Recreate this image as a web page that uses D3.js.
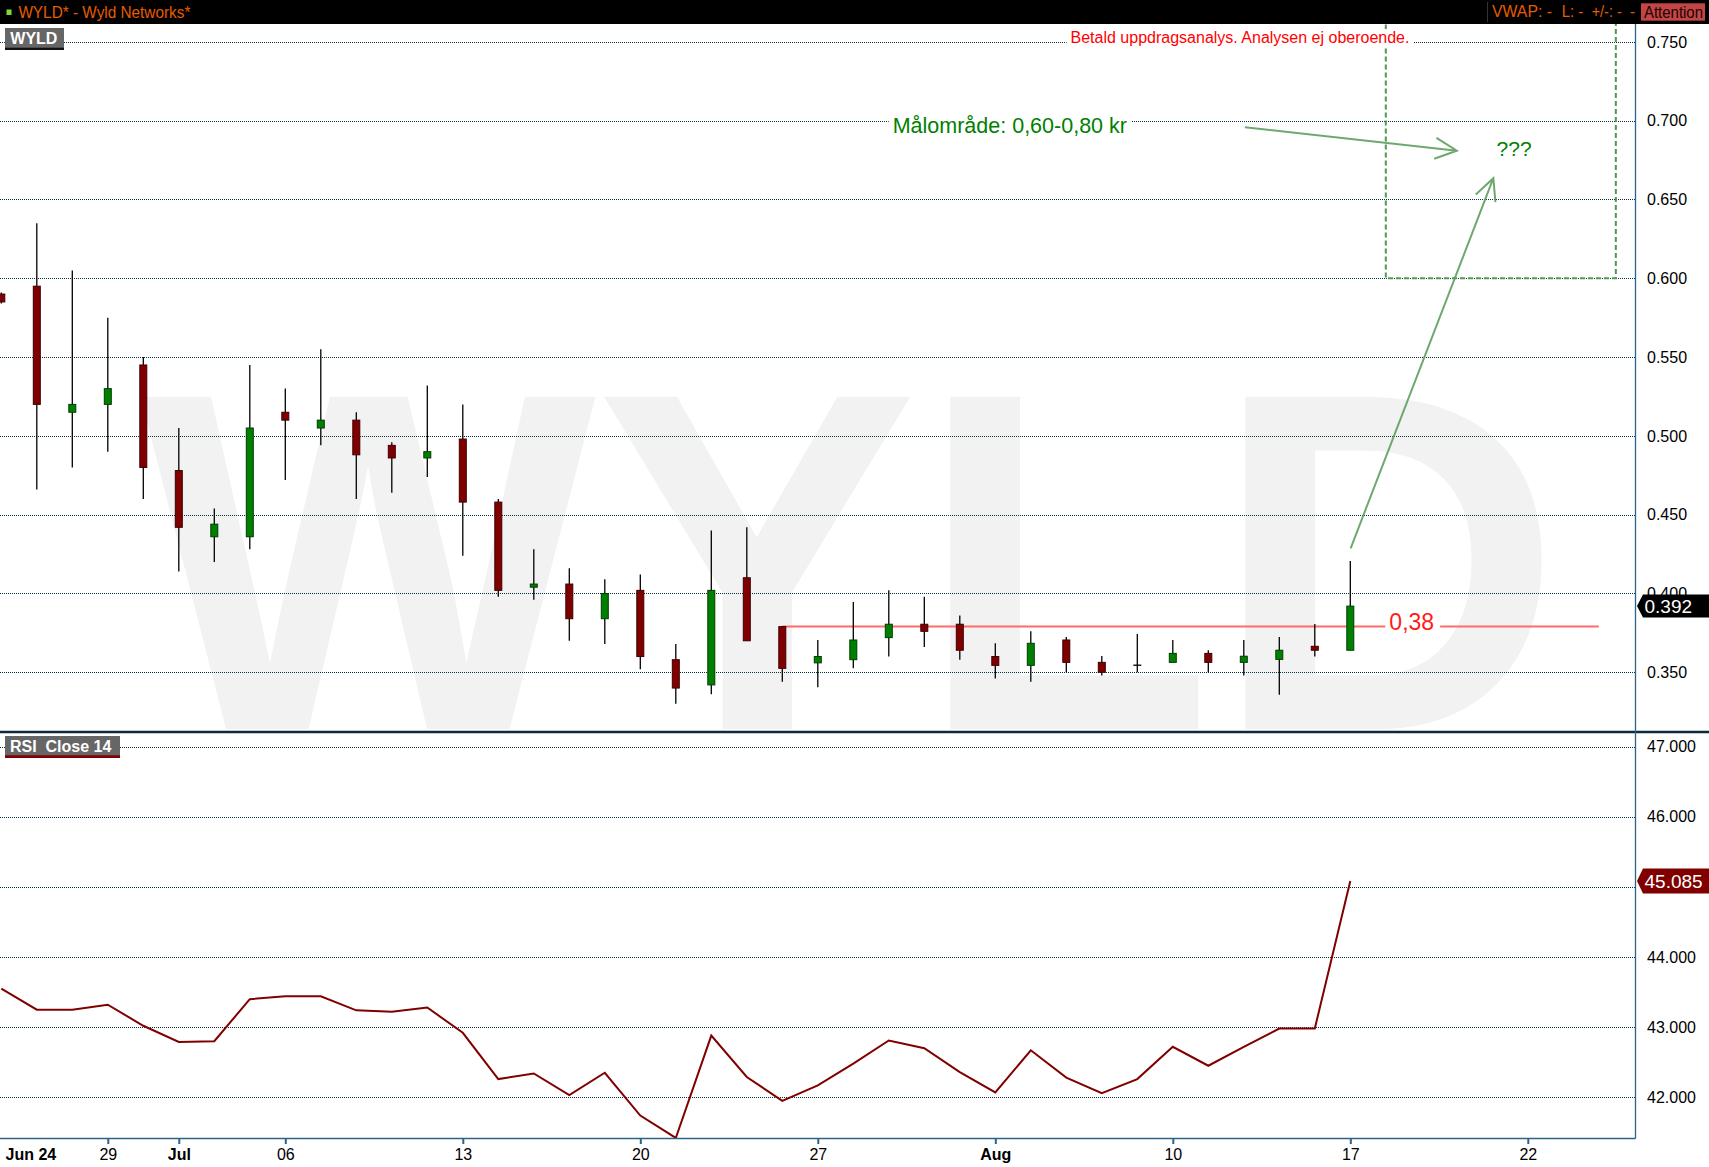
<!DOCTYPE html>
<html><head><meta charset="utf-8">
<script src="https://cdn.jsdelivr.net/npm/d3@7"></script>
<style>
html,body{margin:0;padding:0;background:#fff;overflow:hidden;}
svg{display:block;font-family:"Liberation Sans",Arial,Helvetica,sans-serif;}
</style></head><body>
<svg id="chart" width="1709" height="1167"></svg>
<script>
// ---------------- DATA ----------------
const dates = ["2020-06-24","2020-06-25","2020-06-26","2020-06-29","2020-06-30",
  "2020-07-01","2020-07-02","2020-07-03","2020-07-06","2020-07-07","2020-07-08","2020-07-09","2020-07-10",
  "2020-07-13","2020-07-14","2020-07-15","2020-07-16","2020-07-17",
  "2020-07-20","2020-07-21","2020-07-22","2020-07-23","2020-07-24",
  "2020-07-27","2020-07-28","2020-07-29","2020-07-30","2020-07-31",
  "2020-08-03","2020-08-04","2020-08-05","2020-08-06","2020-08-07",
  "2020-08-10","2020-08-11","2020-08-12","2020-08-13","2020-08-14","2020-08-17"];
const openV  = [0.590,0.595,0.515,0.520,0.545,0.478,0.436,0.436,0.515,0.505,0.510,0.494,0.486,
  0.498,0.458,0.404,0.406,0.384,0.402,0.358,0.342,0.410,0.379,0.356,0.358,0.372,0.3805,0.3805,
  0.360,0.3544,0.3705,0.3563,0.3545,0.3563,0.362,0.3563,0.3582,0.3665,0.364];
const highV  = [0.591,0.635,0.605,0.575,0.550,0.505,0.454,0.545,0.530,0.555,0.515,0.496,0.532,
  0.520,0.460,0.428,0.416,0.409,0.412,0.368,0.440,0.442,0.379,0.3705,0.3946,0.402,0.398,0.386,
  0.3684,0.376,0.3724,0.3603,0.3743,0.3705,0.364,0.3705,0.3724,0.3807,0.4206];
const lowV   = [0.584,0.466,0.480,0.490,0.460,0.414,0.420,0.428,0.472,0.494,0.460,0.464,0.474,
  0.424,0.398,0.396,0.370,0.368,0.352,0.330,0.336,0.370,0.344,0.3405,0.3525,0.360,0.366,0.358,
  0.346,0.344,0.350,0.348,0.350,0.3563,0.350,0.348,0.3358,0.360,0.364];
const closeV = [0.585,0.520,0.520,0.530,0.480,0.442,0.444,0.505,0.510,0.510,0.488,0.486,0.490,
  0.458,0.402,0.406,0.384,0.400,0.360,0.340,0.402,0.370,0.3525,0.360,0.3705,0.3805,0.376,0.364,
  0.3544,0.3684,0.3563,0.350,0.3545,0.362,0.3563,0.3602,0.364,0.364,0.392];
const rsiV   = [43.55,43.25,43.25,43.32,43.02,42.79,42.80,43.40,43.44,43.44,43.24,43.22,43.28,
  42.92,42.26,42.34,42.03,42.35,41.74,41.42,42.88,42.29,41.95,42.17,42.48,42.81,42.70,42.36,
  42.07,42.67,42.28,42.06,42.26,42.72,42.45,42.72,42.98,42.98,45.085];

const tickIndex  = [0,3,5,8,13,18,23,28,33,38,43];
const tickLabels = ["Jun 24","29","Jul","06","13","20","27","Aug","10","17","22"];
const tickBold   = [true,false,true,false,false,false,false,true,false,false,false];
const priceTicks = [0.35,0.40,0.45,0.50,0.55,0.60,0.65,0.70,0.75];
const rsiTicks   = [42,43,44,45,46,47];

const supportLevel = 0.379, supportFrom = 22, supportTo = 45, supportLabelAt = 39.1;
const targetLow = 0.60, targetHigh = 0.80, targetFrom = 39, targetTo = 45.48;
const arrows = [ {x1:35.03,y1:0.6958,x2:41.0,y2:0.681}, {x1:38.01,y1:0.4287,x2:42.03,y2:0.6635} ];

// ---------------- LAYOUT ----------------
const W = 1709, H = 1167, plotR = 1635, headerH = 24, sepY = 732, axisY = 1138;
const svg = d3.select("#chart");
const x  = d3.scaleLinear().domain([0,46]).range([1.3, 1634.3]);
const yP = d3.scaleLinear().domain([0.35,0.75]).range([672.3, 41.9]);
const yR = d3.scaleLinear().domain([42,47]).range([1097.3, 746.7]);
const gridCol = "#0d3040", axisCol = "#2b6488";

const defs = svg.append("defs");
defs.append("clipPath").attr("id","cpP").append("rect").attr("x",0).attr("y",headerH).attr("width",plotR).attr("height",sepY-1-headerH);
defs.append("clipPath").attr("id","cpR").append("rect").attr("x",0).attr("y",sepY+1).attr("width",plotR).attr("height",axisY-sepY-1);

// watermark
const gP = svg.append("g").attr("clip-path","url(#cpP)");
gP.append("text").attr("x",140).attr("y",729).attr("font-size",483).attr("font-weight","bold")
  .attr("fill","#f2f2f2").text("WYLD");

// price grid
gP.selectAll("line.grid").data(priceTicks).join("line").attr("class","grid")
  .attr("x1",0).attr("x2",plotR)
  .attr("y1",d=>Math.round(yP(d))+0.5).attr("y2",d=>Math.round(yP(d))+0.5)
  .attr("stroke",gridCol).attr("stroke-width",1).attr("stroke-dasharray","1,1");

// target box
gP.append("rect").attr("x",x(targetFrom)).attr("y",yP(targetHigh))
  .attr("width",x(targetTo)-x(targetFrom)).attr("height",yP(targetLow)-yP(targetHigh))
  .attr("fill","none").attr("stroke","#4f9a4f").attr("stroke-width",2).attr("stroke-dasharray","5,3");

// support line + label
const sY = yP(supportLevel);
const sLab = gP.append("text").attr("x",x(supportLabelAt)).attr("y",sY+3).attr("font-size",23)
  .attr("fill","#ff1a1a").text("0,38");
const sbb = sLab.node().getBBox();
gP.append("line").attr("x1",x(supportFrom)).attr("x2",sbb.x-4).attr("y1",sY).attr("y2",sY)
  .attr("stroke","#ff6b6b").attr("stroke-width",2);
gP.append("line").attr("x1",sbb.x+sbb.width+6).attr("x2",x(supportTo)).attr("y1",sY).attr("y2",sY)
  .attr("stroke","#ff6b6b").attr("stroke-width",2);

// candles
const data = dates.map((d,i)=>({i,o:openV[i],h:highV[i],l:lowV[i],c:closeV[i]}));
gP.selectAll("line.wick").data(data).join("line").attr("class","wick")
  .attr("x1",d=>x(d.i)).attr("x2",d=>x(d.i)).attr("y1",d=>yP(d.h)).attr("y2",d=>yP(d.l))
  .attr("stroke","#000").attr("stroke-width",1.3);
gP.selectAll("rect.body").data(data.filter(d=>d.o!==d.c)).join("rect").attr("class","body")
  .attr("x",d=>x(d.i)-3.5).attr("width",7)
  .attr("y",d=>yP(Math.max(d.o,d.c))).attr("height",d=>Math.max(1,yP(Math.min(d.o,d.c))-yP(Math.max(d.o,d.c))))
  .attr("fill",d=>d.c>d.o?"#008000":"#800000").attr("stroke",d=>d.c>d.o?"#003c00":"#3c0000").attr("stroke-width",1);
gP.selectAll("line.doji").data(data.filter(d=>d.o===d.c)).join("line").attr("class","doji")
  .attr("x1",d=>x(d.i)-4).attr("x2",d=>x(d.i)+4).attr("y1",d=>yP(d.o)).attr("y2",d=>yP(d.o))
  .attr("stroke","#000").attr("stroke-width",1.3);

// arrows
const arrowCol = "#5f9f5f";
arrows.forEach(a=>{
  const X1=x(a.x1),Y1=yP(a.y1),X2=x(a.x2),Y2=yP(a.y2);
  const ang = Math.atan2(Y1-Y2, X1-X2), L = 24, da = 26*Math.PI/180;
  const p = d3.path();
  p.moveTo(X1,Y1); p.lineTo(X2,Y2);
  p.moveTo(X2+L*Math.cos(ang+da), Y2+L*Math.sin(ang+da)); p.lineTo(X2,Y2);
  p.lineTo(X2+L*Math.cos(ang-da), Y2+L*Math.sin(ang-da));
  gP.append("path").attr("d",p.toString()).attr("fill","none").attr("stroke",arrowCol)
    .attr("stroke-width",2).attr("stroke-opacity",0.9);
});
gP.append("text").attr("x",x(42.12)).attr("y",yP(0.6776)).attr("font-size",21).attr("fill","#008000").text("???");

// annotation texts with white background
function bgText(tx,ty,size,color,str){
  const grp = gP.append("g");
  const r = grp.append("rect").attr("fill","#fff");
  const t = grp.append("text").attr("x",tx).attr("y",ty).attr("font-size",size).attr("fill",color).text(str);
  const b = t.node().getBBox();
  r.attr("x",b.x-4).attr("y",b.y).attr("width",b.width+8).attr("height",b.height);
}
bgText(x(25.11), yP(0.6924), 21.5, "#008000", "Målområde: 0,60-0,80 kr");
bgText(x(30.12), yP(0.7493), 16, "#ff0000", "Betald uppdragsanalys. Analysen ej oberoende.");

// RSI panel
const gR = svg.append("g").attr("clip-path","url(#cpR)");
gR.selectAll("line.grid").data(rsiTicks).join("line").attr("class","grid")
  .attr("x1",0).attr("x2",plotR)
  .attr("y1",d=>Math.round(yR(d))+0.5).attr("y2",d=>Math.round(yR(d))+0.5)
  .attr("stroke",gridCol).attr("stroke-width",1).attr("stroke-dasharray","1,1");
gR.append("path").datum(rsiV).attr("fill","none").attr("stroke","#800000").attr("stroke-width",2)
  .attr("stroke-linejoin","miter")
  .attr("d",d3.line().x((d,i)=>x(i)).y(d=>yR(d)));

// separators and axis lines
svg.append("line").attr("x1",0).attr("x2",W).attr("y1",sepY).attr("y2",sepY).attr("stroke","#0b2b3b").attr("stroke-width",2.7);
svg.append("line").attr("x1",plotR+0.5).attr("x2",plotR+0.5).attr("y1",headerH).attr("y2",axisY+0.5).attr("stroke",axisCol).attr("stroke-width",1.3);
svg.append("line").attr("x1",0).attr("x2",plotR+0.5).attr("y1",axisY+0.5).attr("y2",axisY+0.5).attr("stroke",axisCol).attr("stroke-width",1.3);

// last value tags (hide axis labels fully covered by a tag)
const lastClose = closeV[closeV.length-1], lastRsi = rsiV[rsiV.length-1];
const pAx = svg.append("g").attr("transform",`translate(${plotR},0)`)
  .call(d3.axisRight(yP).tickValues(priceTicks).tickFormat(d3.format(".3f")).tickSize(0).tickPadding(12));
const rAx = svg.append("g").attr("transform",`translate(${plotR},0)`)
  .call(d3.axisRight(yR).tickValues(rsiTicks.filter(t=>Math.abs(yR(t)-yR(lastRsi))>8))
    .tickFormat(d3.format(".3f")).tickSize(0).tickPadding(12));
[pAx,rAx].forEach(a=>{a.select(".domain").remove();
  a.selectAll("text").attr("font-size",16).attr("fill","#000").attr("font-family",null);});

// bottom axis
const xAx = svg.append("g").attr("transform",`translate(0,${axisY})`)
  .call(d3.axisBottom(x).tickValues(tickIndex).tickFormat((d,i)=>tickLabels[i]).tickSize(6).tickPadding(4.5).tickSizeOuter(0));
xAx.select(".domain").remove();
xAx.attr("font-family",null);
xAx.selectAll(".tick line").attr("stroke",axisCol).attr("stroke-width",2);
xAx.selectAll(".tick text").attr("font-size",16).attr("fill","#000")
  .attr("font-weight",(d,i)=>tickBold[i]?"bold":"normal");
xAx.selectAll(".tick").filter(d=>d===0).each(function(){
  d3.select(this).select("line").remove();
  d3.select(this).select("text").attr("text-anchor","start").attr("x",3.7);
});

function tag(cy,half,fill,str){
  const p = d3.path();
  p.moveTo(plotR+2,cy); p.lineTo(plotR+8,cy-half); p.lineTo(W,cy-half); p.lineTo(W,cy+half); p.lineTo(plotR+8,cy+half); p.closePath();
  svg.append("path").attr("d",p.toString()).attr("fill",fill);
  svg.append("text").attr("x",plotR+9.5).attr("y",cy+7).attr("font-size",19).attr("fill","#fff").text(str);
}
tag(yP(lastClose), 11.5, "#000", d3.format(".3f")(lastClose));
tag(yR(lastRsi), 12.5, "#800000", d3.format(".3f")(lastRsi));

// panel labels
const lab1 = svg.append("g");
lab1.append("rect").attr("x",5).attr("y",28).attr("width",59).attr("height",22).attr("fill","#666");
lab1.append("rect").attr("x",5).attr("y",47.7).attr("width",59).attr("height",2.3).attr("fill","#111");
lab1.append("text").attr("x",10.3).attr("y",44).attr("font-size",16).attr("font-weight","bold").attr("fill","#fff")
  .text("WYLD");
const lab2 = svg.append("g");
lab2.append("rect").attr("x",5).attr("y",736).attr("width",115).attr("height",22).attr("fill","#666");
lab2.append("rect").attr("x",5).attr("y",755.3).attr("width",115).attr("height",2.7).attr("fill","#800000");
lab2.append("text").attr("x",10).attr("y",751.7).attr("font-size",16).attr("font-weight","bold").attr("fill","#fff")
  .style("white-space","pre").text("RSI  Close 14");

// header bar
svg.append("rect").attr("x",0).attr("y",0).attr("width",W).attr("height",headerH).attr("fill","#000");
svg.append("rect").attr("x",6.5).attr("y",9.5).attr("width",5).attr("height",5.5).attr("fill","#7ddc3c");
svg.append("text").attr("x",18.4).attr("y",18.3).attr("font-size",17).attr("fill","#e65c00")
  .attr("textLength",172).attr("lengthAdjust","spacingAndGlyphs").text("WYLD* - Wyld Networks*");
svg.append("line").attr("x1",1487.5).attr("x2",1487.5).attr("y1",2).attr("y2",22).attr("stroke","#333");
const hdrItems = [["VWAP: -",1492,60],["L: -",1561.7,21.5],["+/-: -",1591.7,30],["-",1630,5]];
hdrItems.forEach(h=>svg.append("text").attr("x",h[1]).attr("y",17.3).attr("font-size",16)
  .attr("fill","#e65c00").attr("textLength",h[2]).attr("lengthAdjust","spacingAndGlyphs").text(h[0]));
svg.append("rect").attr("x",1641).attr("y",3.3).attr("width",64).attr("height",17.4).attr("fill","#c44545");
svg.append("text").attr("x",1644).attr("y",18.2).attr("font-size",16).attr("fill","#1a0000")
  .attr("textLength",59).attr("lengthAdjust","spacingAndGlyphs").text("Attention");
</script>
</body></html>
